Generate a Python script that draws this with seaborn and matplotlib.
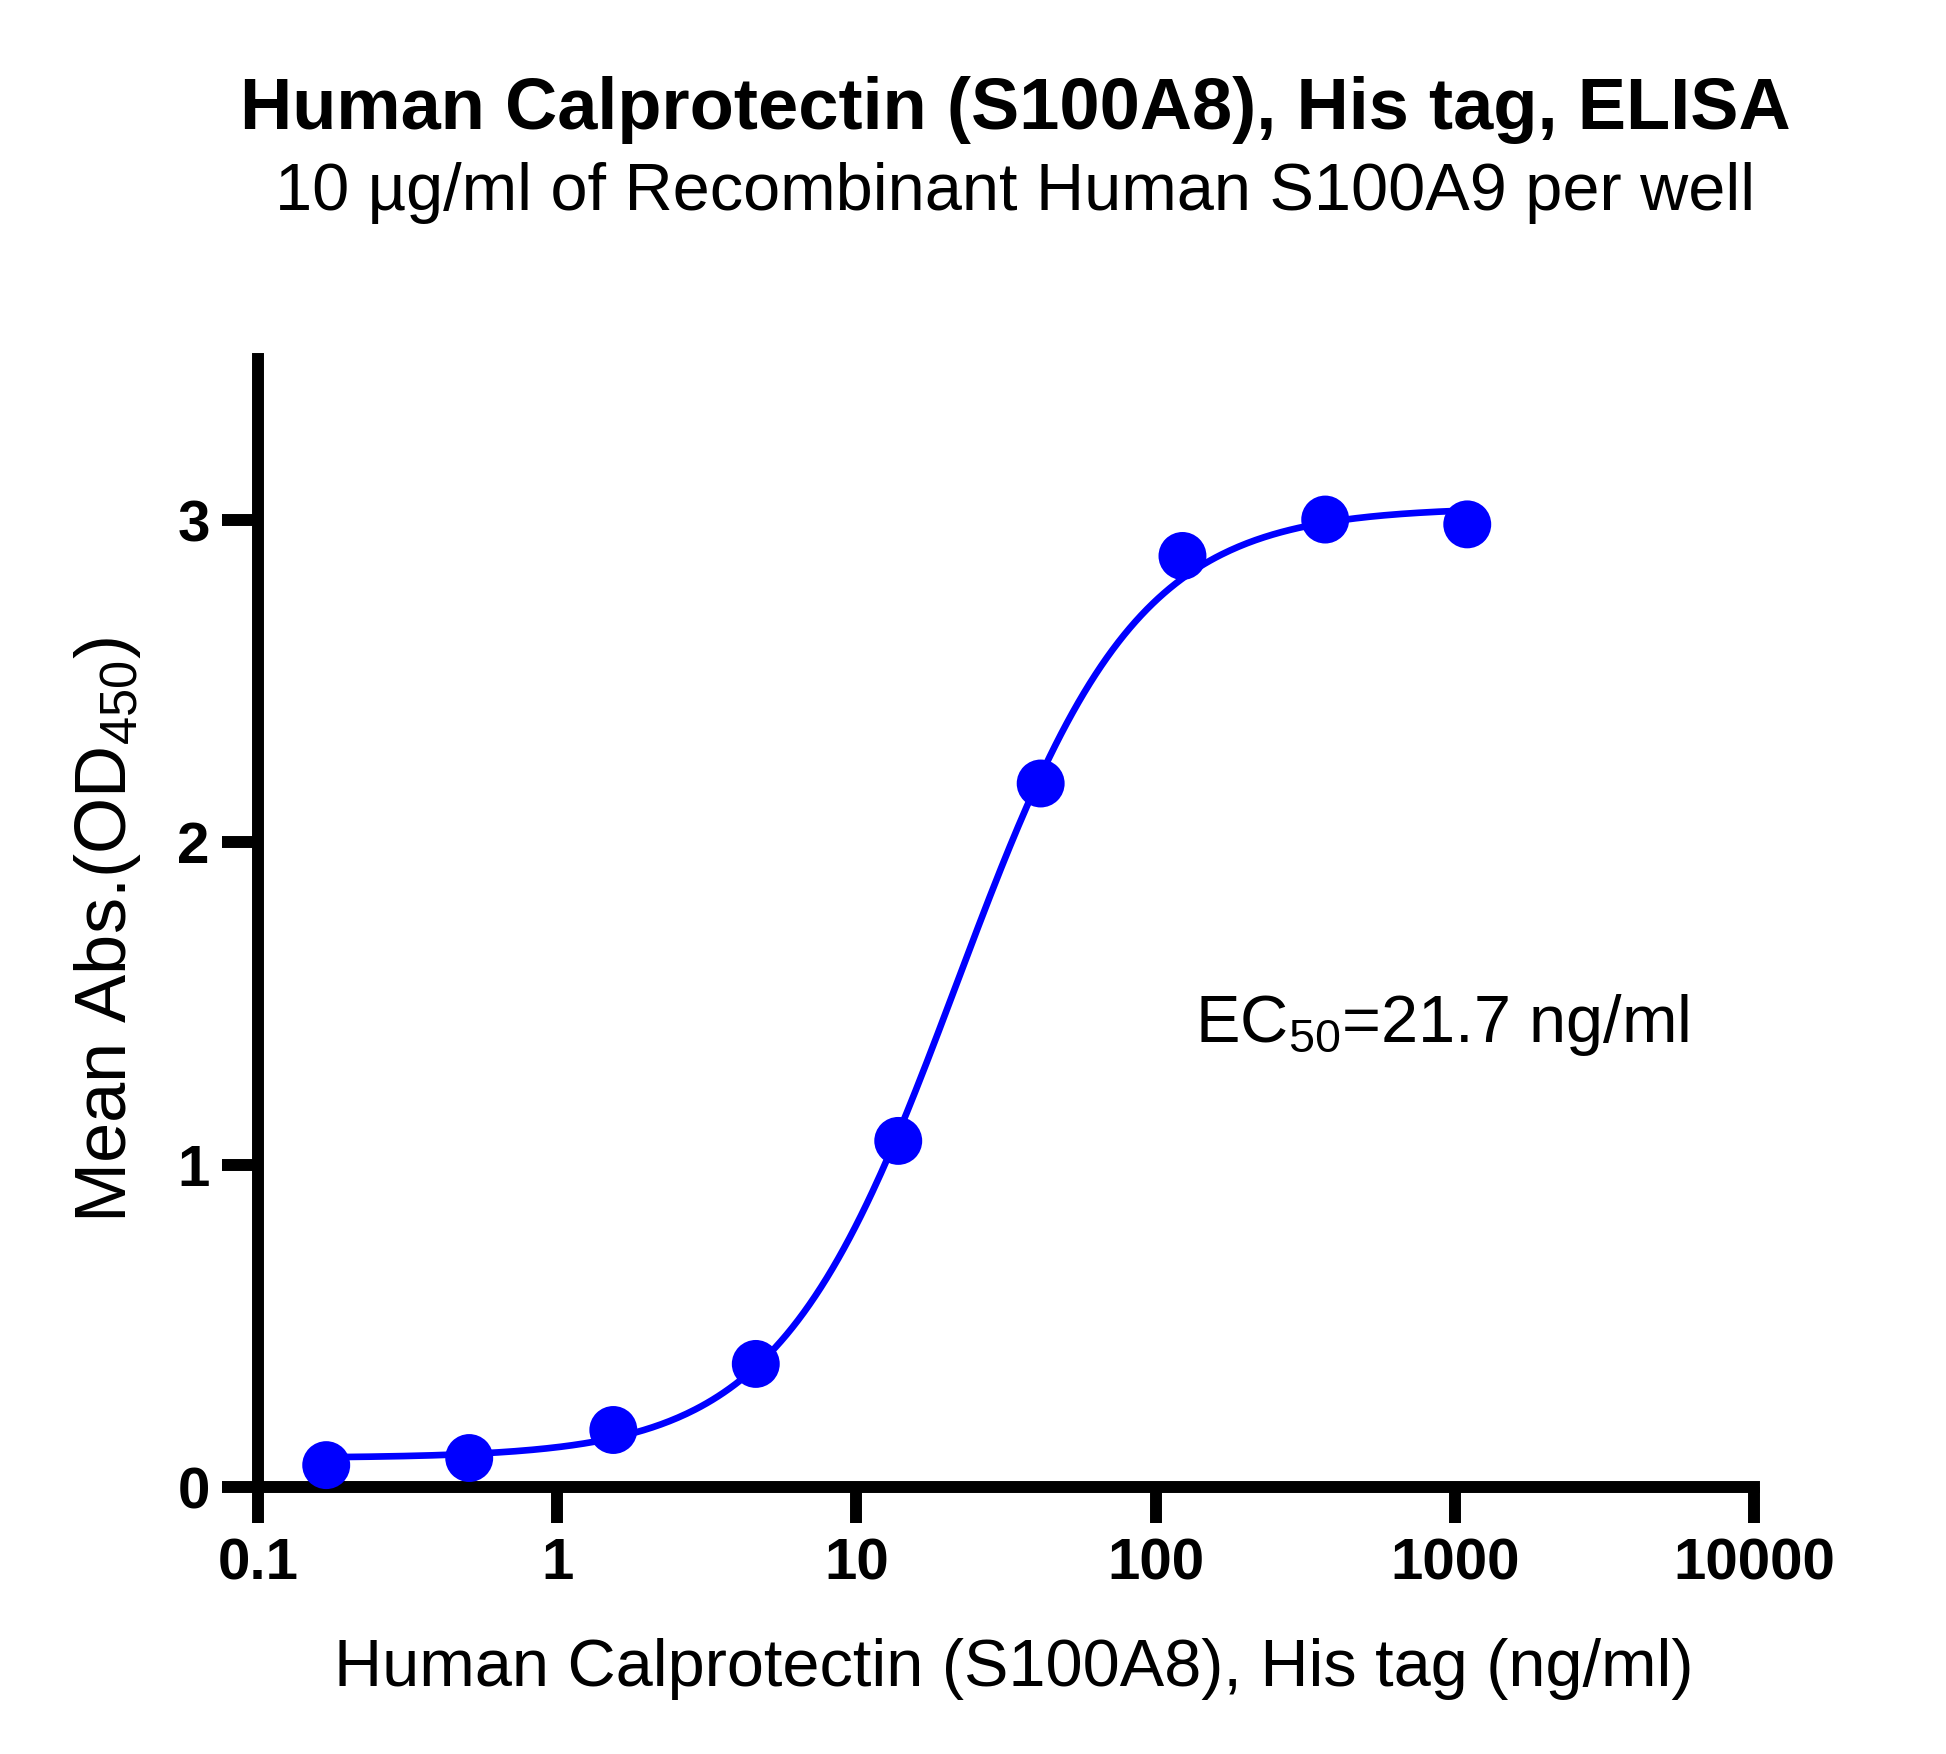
import numpy as np
import pandas as pd
import matplotlib
matplotlib.use("Agg")
import matplotlib.pyplot as plt
import seaborn as sns

# ---- data ----
conc_ng_ml = [0.169, 0.508, 1.54, 4.61, 13.8, 41.3, 123.0, 369.0, 1101.0]
mean_od450 = [0.068, 0.090, 0.177, 0.382, 1.074, 2.183, 2.889, 3.002, 2.987]

# 4PL fit parameters (EC50 as printed on the chart)
fit_bottom = 0.09
fit_top = 3.04
fit_ec50 = 21.7
fit_hill = 1.45

x_ticks = [0.1, 1, 10, 100, 1000, 10000]
x_tick_labels = ["0.1", "1", "10", "100", "1000", "10000"]
y_ticks = [0, 1, 2, 3]
y_tick_labels = ["0", "1", "2", "3"]

title = "Human Calprotectin (S100A8), His tag, ELISA"
subtitle = "10 \u00b5g/ml of Recombinant Human S100A9 per well"
x_label = "Human Calprotectin (S100A8), His tag (ng/ml)"
y_label = "Mean Abs.(OD$_{450}$)"
ec50_text = "EC$_{50}$=21.7 ng/ml"

# ---- style ----
sns.set_style("ticks")
plt.rcParams["font.family"] = ["Liberation Sans", "DejaVu Sans"]
plt.rcParams["mathtext.fontset"] = "custom"
plt.rcParams["mathtext.rm"] = "Liberation Sans"
plt.rcParams["mathtext.it"] = "Liberation Sans:italic"
plt.rcParams["mathtext.bf"] = "Liberation Sans:bold"
plt.rcParams["mathtext.default"] = "regular"
for k in ["text.color", "axes.labelcolor", "xtick.color", "ytick.color",
          "axes.edgecolor"]:
    plt.rcParams[k] = "black"

BLUE = "#0000FF"

fig = plt.figure(figsize=(19.46, 17.54), dpi=100)
ax = fig.add_axes([0.1326, 0.1522, 0.7687, 0.6431])

df_pts = pd.DataFrame({"conc": conc_ng_ml, "od": mean_od450})

# fitted curve (4-parameter logistic) between first and last concentration
xc = np.logspace(np.log10(conc_ng_ml[0]), np.log10(conc_ng_ml[-1]), 400)
yc = fit_bottom + (fit_top - fit_bottom) / (1.0 + (fit_ec50 / xc) ** fit_hill)
df_fit = pd.DataFrame({"conc": xc, "od": yc})

sns.lineplot(data=df_fit, x="conc", y="od", ax=ax, color=BLUE, linewidth=4.8,
             zorder=5, clip_on=False)
sns.scatterplot(data=df_pts, x="conc", y="od", ax=ax, color=BLUE, s=34.5 ** 2,
                edgecolor="none", linewidth=0, zorder=6, clip_on=False)

ax.set_xscale("log")
ax.set_xlim(0.1, 10000)
ax.set_ylim(0, 3.5)
ax.set_xticks(x_ticks)
ax.set_xticklabels(x_tick_labels)
ax.set_yticks(y_ticks)
ax.set_yticklabels(y_tick_labels)
ax.xaxis.set_minor_locator(matplotlib.ticker.NullLocator())

for s in ["top", "right"]:
    ax.spines[s].set_visible(False)
for s in ["left", "bottom"]:
    ax.spines[s].set_linewidth(8.6)
    ax.spines[s].set_color("black")
    ax.spines[s].set_capstyle("projecting")

ax.tick_params(axis="both", which="major", direction="out", length=26, width=8.6,
               color="black", labelsize=42, bottom=True, left=True,
               labelcolor="black")
ax.tick_params(axis="x", pad=10)
ax.tick_params(axis="y", pad=8.6)
for lab in ax.get_xticklabels() + ax.get_yticklabels():
    lab.set_fontweight("bold")

ax.set_xlabel(x_label, fontsize=48, color="black")
ax.xaxis.label.set_verticalalignment("baseline")
ax.xaxis.set_label_coords(0.5053, -0.1764)

ax.set_ylabel(y_label, fontsize=52, color="black")
ax.yaxis.label.set_rotation_mode("anchor")
ax.yaxis.label.set_verticalalignment("baseline")
ax.yaxis.label.set_horizontalalignment("center")
ax.yaxis.set_label_coords(-0.0882, 0.494)

ax.text(0.6264, 0.3945, ec50_text, transform=ax.transAxes, fontsize=48,
        ha="left", va="baseline", color="black")

fig.text(0.5216, 0.9265, title, ha="center", va="baseline", fontsize=52,
         fontweight="bold", color="black")
fig.text(0.5216, 0.8803, subtitle, ha="center", va="baseline", fontsize=48,
         color="black")

fig.savefig("out.png", dpi=100, facecolor="white")
